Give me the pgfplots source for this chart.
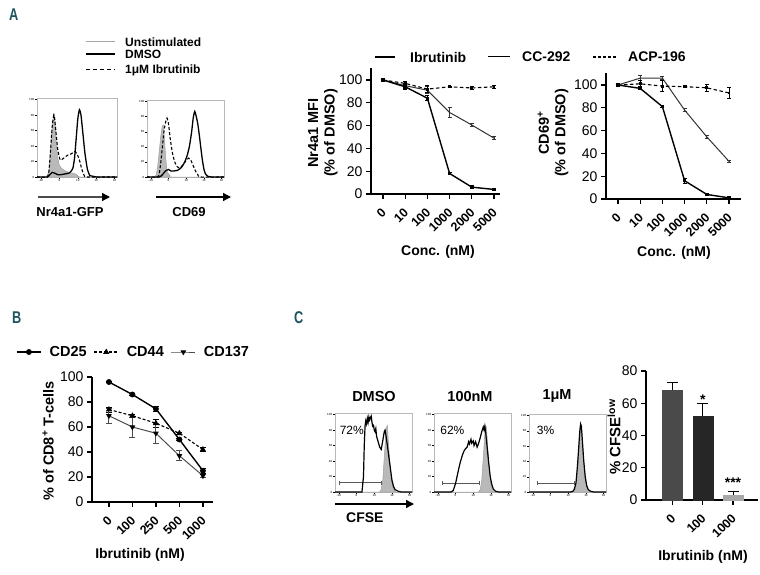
\documentclass[border=0pt]{standalone}
\usepackage{fontspec}
\setmainfont{Liberation Sans}
\usepackage{pgfplots}
\pgfplotsset{compat=1.18}
\usetikzlibrary{arrows.meta}
\definecolor{panelteal}{HTML}{1E5360}
\definecolor{barA}{HTML}{4A4A4A}
\definecolor{barB}{HTML}{262626}
\definecolor{barC}{HTML}{A8A8A8}
\newcommand{\fs}[1]{\fontsize{#1}{#1}\selectfont}
\pgfplotsset{
  base/.style={scale only axis, anchor=south west, /pgf/number format/assume math mode=true},
  hist/.style={base, xmin=0, xmax=100, ymin=0, ymax=102,
    axis line style={gray!55, line width=0.6pt},
    tick align=outside, major tick length=2pt,
    tick style={black, line width=0.4pt},
    xtick pos=bottom, ytick pos=left,
    ytick={0,20,40,60,80,100},
    yticklabel style={font=\fs{3}, inner sep=0.6pt},
    xtick={5,28,51,74,97},
    xticklabels={-10,0,10,10,10},
    xticklabel style={font=\fs{3}, inner sep=0.6pt},
  },
  lc/.style={base, axis x line*=bottom, axis y line*=left,
    axis line style={line width=1.3pt, -},
    tick align=outside, major tick length=5pt,
    tick style={black, line width=1.3pt},
    ymin=0, ytick={0,20,40,60,80,100}, xtick={0,1,2,3,4,5},
    tick label style={font=\fs{14}},
    xticklabel style={xshift=2pt, yshift=-10pt, rotate=45, anchor=east, inner sep=1.5pt, font=\bfseries\fs{12.5}},
    error bars/error bar style={line width=1pt, solid},
    error bars/error mark options={rotate=90, mark size=2pt, line width=1pt, solid},
  },
  ibr/.style={black, line width=1.4pt, mark=square*, mark size=1pt, mark options={solid}},
  cc/.style={black!80, line width=1pt, mark=none},
  acp/.style={black, line width=1.1pt, dash pattern=on 3.5pt off 2.5pt, mark=square*, mark size=0.9pt, mark options={solid}},
  grayfill/.style={fill=gray!55, draw=gray!75, line width=0.5pt},
}
\begin{document}
\begin{tikzpicture}
\path[use as bounding box] (0pt,0pt) rectangle (760pt,-575pt);

% ---------- panel letters
\node[anchor=west, inner sep=0pt, text=panelteal, font=\bfseries\fs{17}] at (9pt,-15pt) {\scalebox{0.75}[1]{A}};
\node[anchor=west, inner sep=0pt, text=panelteal, font=\bfseries\fs{17}] at (12pt,-318pt) {\scalebox{0.75}[1]{B}};
\node[anchor=west, inner sep=0pt, text=panelteal, font=\bfseries\fs{17}] at (294pt,-318pt) {\scalebox{0.75}[1]{C}};

% ---------- panel A histogram legend
\draw[gray!70, line width=1pt] (86pt,-42pt) -- (115pt,-42pt);
\draw[black, line width=1.3pt] (86pt,-54pt) -- (115pt,-54pt);
\draw[black, line width=1pt, dash pattern=on 4pt off 3pt] (86pt,-70pt) -- (115pt,-70pt);
\node[anchor=west, inner sep=0pt, font=\bfseries\fs{12}] at (125pt,-42pt) {Unstimulated};
\node[anchor=west, inner sep=0pt, font=\bfseries\fs{12}] at (125pt,-54pt) {DMSO};
\node[anchor=west, inner sep=0pt, font=\bfseries\fs{12}] at (125pt,-70pt) {1μM Ibrutinib};

% ---------- panel A histograms
\begin{axis}[hist, at={(37pt,-177pt)}, width=80pt, height=79pt]
\addplot[grayfill, smooth, tension=0.3] coordinates {(0,0)(11,0)(13,2)(15,10)(17,35)(19,65)(20.5,80)(21.5,82)(22.5,72)(24,45)(26,25)(28,15)(31,11)(35,8)(40,6)(45,5)(50,3)(54,0)(100,0)} \closedcycle;
\addplot[black, line width=1.1pt, dash pattern=on 3pt off 2pt, smooth, tension=0.3] coordinates {(0,0)(13,0)(15,8)(17,35)(19,65)(21,80)(22,76)(24,55)(26,35)(29,22)(33,24)(38,28)(43,30)(47,33)(50,30)(53,22)(56,10)(59,2)(62,0)(100,0)};
\addplot[black, line width=1.3pt, smooth, tension=0.3] coordinates {(0,0)(13,0)(16,3)(19,6)(22,5)(26,3)(30,3)(35,4)(40,5)(43,8)(45,12)(47,25)(49,50)(51,75)(53,87)(55,80)(57,60)(60,30)(63,10)(66,2)(70,1)(75,0)(100,0)};
\end{axis}
\begin{axis}[hist, at={(147pt,-177pt)}, width=77pt, height=77pt]
\addplot[grayfill, smooth, tension=0.3] coordinates {(0,0)(10,0)(12,3)(14,15)(16,35)(18,55)(20,68)(21,69)(22,60)(24,30)(26,8)(28,4)(30,2)(32,0)(100,0)} \closedcycle;
\addplot[black, line width=1.1pt, dash pattern=on 3pt off 2pt, smooth, tension=0.3] coordinates {(0,0)(14,0)(16,5)(18,20)(20,40)(22,60)(24,72)(26,78)(28,70)(30,52)(33,32)(36,20)(39,14)(42,12)(45,14)(48,18)(51,22)(54,25)(57,22)(60,15)(63,8)(66,3)(69,0)(100,0)};
\addplot[black, line width=1.3pt, smooth, tension=0.3] coordinates {(0,0)(16,0)(20,3)(24,8)(28,10)(31,8)(35,8)(40,9)(45,13)(49,20)(52,28)(55,40)(58,60)(60,78)(62,87)(64,80)(66,70)(68,55)(70,38)(72,22)(74,10)(76,4)(79,1)(84,0)(100,0)};
\end{axis}
\draw[gray!60!black, line width=1.3pt, -{Triangle[length=8pt,width=8pt,color=black]}] (38pt,-197pt) -- (110pt,-197pt);
\draw[black, line width=1.3pt, -{Triangle[length=8pt,width=8pt]}] (156pt,-197pt) -- (231pt,-197pt);
\node[inner sep=0pt, font=\bfseries\fs{13}] at (70pt,-212pt) {Nr4a1-GFP};
\node[inner sep=0pt, font=\bfseries\fs{13}] at (189pt,-212pt) {CD69};

% ---------- panel A line-chart legend
\draw[black, line width=1.4pt] (375pt,-57pt) -- (395pt,-57pt);
\node[anchor=west, inner sep=0pt, font=\bfseries\fs{14}] at (410pt,-57pt) {Ibrutinib};
\draw[black, line width=1pt] (488pt,-57pt) -- (510pt,-57pt);
\node[anchor=west, inner sep=0pt, font=\bfseries\fs{14}] at (522pt,-57pt) {CC-292};
\draw[black, line width=1.1pt, dash pattern=on 3pt off 2pt] (593pt,-57pt) -- (617pt,-57pt);
\node[anchor=west, inner sep=0pt, font=\bfseries\fs{14}] at (628pt,-57pt) {ACP-196};

% ---------- panel A chart 1
\begin{axis}[lc, at={(371pt,-194pt)}, width=129pt, height=126pt, xmin=-0.54, xmax=5.27, ymax=110.5,
  xticklabels={0,10,100,1000,2000,5000}]
\addplot[cc, error bars/.cd, y dir=both, y explicit] table[row sep=\\, y error=e] {x y e\\ 0 100 0\\ 1 95 2\\ 2 91 3\\ 3 71.5 4\\ 4 60.5 1.5\\ 5 49 1.2\\};
\addplot[acp, error bars/.cd, y dir=both, y explicit] table[row sep=\\, y error=e] {x y e\\ 0 100 0\\ 1 97 2\\ 2 92 3\\ 3 94 0.7\\ 4 93 1.5\\ 5 94 1.3\\};
\addplot[ibr, error bars/.cd, y dir=both, y explicit] table[row sep=\\, y error=e] {x y e\\ 0 100 0\\ 1 94 2\\ 2 84 2\\ 3 18 1\\ 4 6 0.5\\ 5 4 0.5\\};
\end{axis}
\node[rotate=90, align=center, font=\bfseries\fs{14.5}, inner sep=0pt] at (323pt,-133pt) {Nr4a1 MFI\\[2pt](\% of DMSO)};
\node[inner sep=0pt, font=\bfseries\fs{14}] at (438pt,-252pt) {Conc. (nM)};

% ---------- panel A chart 2
\begin{axis}[lc, at={(606pt,-199pt)}, width=135pt, height=126pt, xmin=-0.54, xmax=5.54, ymax=110.5,
  xticklabels={0,10,100,1000,2000,5000}]
\addplot[cc, error bars/.cd, y dir=both, y explicit] table[row sep=\\, y error=e] {x y e\\ 0 100 0\\ 1 106 2\\ 2 106 1.5\\ 3 78 1\\ 4 54.5 1.2\\ 5 33 1.2\\};
\addplot[acp, error bars/.cd, y dir=both, y explicit] table[row sep=\\, y error=e] {x y e\\ 0 100 0\\ 1 101 2.5\\ 2 99 5\\ 3 98.5 1\\ 4 97.5 3\\ 5 93 4.5\\};
\addplot[ibr, error bars/.cd, y dir=both, y explicit] table[row sep=\\, y error=e] {x y e\\ 0 100 0\\ 1 97 1.2\\ 2 81 1\\ 3 16 2.2\\ 4 4 0.5\\ 5 1 0.5\\};
\end{axis}
\node[rotate=90, align=center, font=\bfseries\fs{14.5}, inner sep=0pt] at (553pt,-133pt) {CD69\textsuperscript{+}\\[2pt](\% of DMSO)};
\node[inner sep=0pt, font=\bfseries\fs{14}] at (674pt,-253pt) {Conc. (nM)};

% ---------- panel B
\begin{axis}[lc, at={(92pt,-502pt)}, width=121pt, height=125pt, xmin=-0.72, xmax=4.43, ymax=100,
  xticklabels={0,100,250,500,1000},
  error bars/error mark options={rotate=90, mark size=3pt, line width=1pt, solid},
  legend columns=3,
  legend style={at={(axis description cs:-0.628,1.2)}, anchor=west, draw=none, fill=none, inner sep=0pt,
    font=\bfseries\fs{14.5},
    /tikz/every odd column/.append style={column sep=6pt},
    /tikz/every even column/.append style={column sep=5pt}},
  legend image code/.code={\draw[mark repeat=2,mark phase=2,#1] plot coordinates {(0pt,0pt) (12pt,0pt) (24pt,0pt)};}]
\addplot[black, line width=1.4pt, mark=*, mark size=2.2pt, error bars/.cd, y dir=both, y explicit] table[row sep=\\, y error=e] {x y e\\ 0 96 0.5\\ 1 86 0.5\\ 2 74.5 2\\ 3 50 1\\ 4 25 2\\};
\addlegendentry{CD25}
\addplot[black, line width=1.1pt, dash pattern=on 3pt off 2pt, mark=triangle*, mark size=2.4pt, mark options={solid}, error bars/.cd, y dir=both, y explicit] table[row sep=\\, y error=e] {x y e\\ 0 74 2\\ 1 69 1\\ 2 63 3\\ 3 55 1\\ 4 42 1.5\\};
\addlegendentry{CD44}
\addplot[black!70, line width=1pt, mark=triangle*, mark size=2.4pt, mark options={solid, rotate=180, fill=black, draw=black}, error bars/.cd, y dir=both, y explicit] table[row sep=\\, y error=e] {x y e\\ 0 69 6\\ 1 60 8\\ 2 55 8\\ 3 37 4\\ 4 21 1\\};
\addlegendentry{CD137}
\end{axis}
\node[rotate=90, font=\bfseries\fs{14.5}, inner sep=0pt] at (48pt,-441pt) {\% of CD8\textsuperscript{+} T-cells};
\node[inner sep=0pt, font=\bfseries\fs{14}] at (140pt,-555pt) {Ibrutinib (nM)};

% ---------- panel C histograms
\node[inner sep=0pt, font=\bfseries\fs{14.5}] at (374pt,-397pt) {DMSO};
\node[inner sep=0pt, font=\bfseries\fs{14.5}] at (470pt,-397pt) {100nM};
\node[inner sep=0pt, font=\bfseries\fs{14.5}] at (557pt,-396pt) {1μM};
\begin{axis}[hist, at={(335pt,-492pt)}, width=77pt, height=79pt]
\addplot[grayfill] coordinates {(0,0)(58,0)(60,3)(62,15)(64,45)(66,75)(67,84)(68,86)(69,70)(71,40)(73,18)(75,6)(77,2)(79,0)(100,0)} \closedcycle;
\addplot[black!65, line width=0.8pt, arrows={Bar[width=4pt]-Bar[width=4pt]}] coordinates {(5,12)(61,12)};
\addplot[black, line width=1.2pt] coordinates {(0,0)(35,0)(37,20)(38,60)(39,85)(40,92)(41,88)(42,95)(43,90)(44,97)(45,93)(46,96)(47,98)(48,90)(49,85)(50,86)(51,80)(52,78)(53,82)(54,72)(56,65)(58,58)(60,55)(62,66)(64,78)(65,80)(66,74)(68,60)(70,45)(72,30)(74,15)(76,7)(78,3)(82,1)(86,0)(100,0)};
\node[anchor=west, inner sep=0pt, font=\fs{12}] at (axis cs:6,80) {72\%};
\end{axis}
\begin{axis}[hist, at={(434pt,-492pt)}, width=77pt, height=79pt]
\addplot[grayfill] coordinates {(0,0)(58,0)(60,3)(62,15)(64,45)(66,75)(67,86)(68,84)(69,70)(71,40)(73,18)(75,6)(77,2)(79,0)(100,0)} \closedcycle;
\addplot[black!65, line width=0.8pt, arrows={Bar[width=4pt]-Bar[width=4pt]}] coordinates {(11,11)(59,11)};
\addplot[black, line width=1.2pt] coordinates {(0,0)(22,0)(25,2)(28,11)(31,25)(34,38)(37,48)(39,53)(41,56)(43,58)(45,65)(46,62)(48,68)(49,63)(51,66)(52,60)(54,65)(56,58)(58,63)(60,70)(62,78)(64,84)(65,80)(66,85)(67,78)(69,58)(71,38)(73,20)(75,10)(77,4)(80,1)(84,0)(100,0)};
\node[anchor=west, inner sep=0pt, font=\fs{12}] at (axis cs:8,80) {62\%};
\end{axis}
\begin{axis}[hist, at={(529pt,-492pt)}, width=77pt, height=78pt]
\addplot[grayfill] coordinates {(0,0)(58,0)(60,3)(62,15)(64,45)(66,75)(67,86)(68,84)(69,70)(71,40)(73,18)(75,6)(77,2)(79,0)(100,0)} \closedcycle;
\addplot[black!65, line width=0.8pt, arrows={Bar[width=4pt]-Bar[width=4pt]}] coordinates {(10,11.5)(60,11.5)};
\addplot[black, line width=1.2pt] coordinates {(0,0)(54,0)(57,1)(59,4)(61,12)(63,35)(65,65)(66,80)(67,89)(68,86)(69,72)(71,42)(73,20)(75,8)(77,3)(80,1)(84,0)(100,0)};
\node[anchor=west, inner sep=0pt, font=\fs{12}] at (axis cs:10,80) {3\%};
\end{axis}
\draw[black, line width=1.3pt, -{Triangle[length=8pt,width=8pt]}] (335pt,-504pt) -- (414pt,-504pt);
\node[anchor=west, inner sep=0pt, font=\bfseries\fs{14}] at (346pt,-518pt) {CFSE};

% ---------- panel C bars
\begin{axis}[lc, at={(646pt,-500pt)}, width=112pt, height=129pt, xmin=-0.876, xmax=2.826, ymin=0, ymax=80,
  ytick={0,20,40,60,80}, xtick={0,1,2}, xticklabels={0,100,1000}, ybar, bar width=20pt,
  error bars/error mark options={rotate=90, mark size=5.5pt, line width=1pt, solid}]
\addplot[fill=barA, draw=barA, bar shift=0pt, error bars/.cd, y dir=plus, y explicit, error bar style={black, line width=1pt}] coordinates {(0,68) +- (0,5)};
\addplot[fill=barB, draw=barB, bar shift=0pt, error bars/.cd, y dir=plus, y explicit, error bar style={black, line width=1pt}] coordinates {(1,52) +- (0,8)};
\addplot[fill=barC, draw=barC, bar shift=0pt, error bars/.cd, y dir=plus, y explicit, error bar style={black, line width=1pt}] coordinates {(2,3) +- (0,2)};
\node[anchor=base, inner sep=0pt, font=\bfseries\fs{14}] at (axis cs:1,59.5) {*};
\node[anchor=base, inner sep=0pt, font=\bfseries\fs{14}] at (axis cs:2,8) {***};
\end{axis}
\node[rotate=90, font=\bfseries\fs{15}, inner sep=0pt] at (614pt,-437pt) {\% CFSE\textsuperscript{low}};
\node[inner sep=0pt, font=\bfseries\fs{14}] at (703pt,-557pt) {Ibrutinib (nM)};
\end{tikzpicture}
\end{document}
